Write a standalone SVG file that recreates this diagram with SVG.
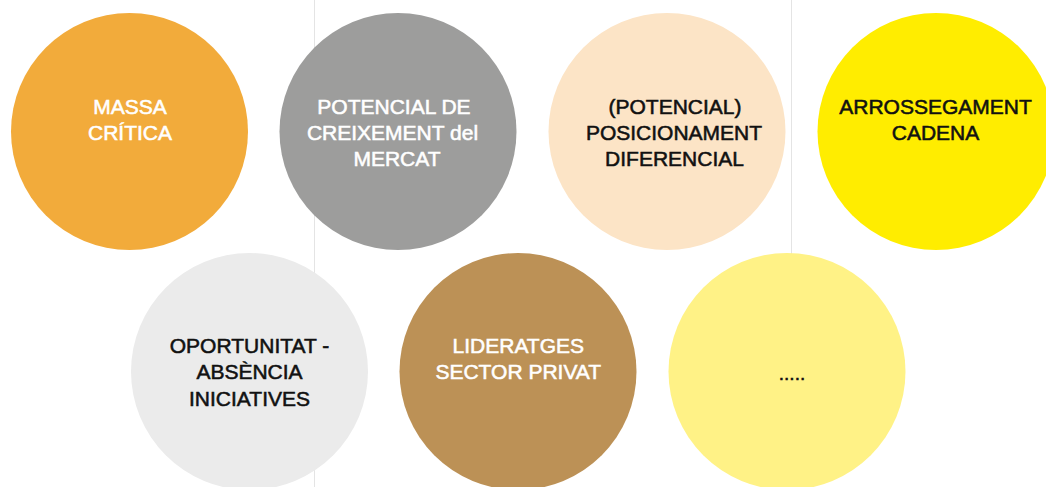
<svg xmlns="http://www.w3.org/2000/svg" width="1046" height="487" viewBox="0 0 1046 487">
<style>
.lbl{font-family:"Liberation Sans",Arial,Helvetica,sans-serif;font-size:21px;text-anchor:middle;stroke-width:0.55px;paint-order:stroke}
.w{fill:#ffffff;stroke:#ffffff}
.k{fill:#111111;stroke:#111111}
.sep{stroke:#e4e4e4;stroke-width:1}
</style>
<rect width="1046" height="487" fill="#ffffff"/>
<g id="connectors">
<line class="sep" x1="314.5" y1="0" x2="314.5" y2="487"/>
<line class="sep" x1="791.5" y1="0" x2="791.5" y2="487"/>
</g>
<g id="n1">
<circle cx="129.5" cy="131.5" r="118.5" fill="#F2AB3B"/>
<text class="lbl w" x="130" y="114.3">MASSA</text>
<text class="lbl w" x="130" y="140">CRÍTICA</text>
</g>
<g id="n2">
<circle cx="398" cy="131.5" r="118.5" fill="#9D9D9C"/>
<text class="lbl w" x="394" y="114">POTENCIAL DE</text>
<text class="lbl w" x="392.5" y="140">CREIXEMENT del</text>
<text class="lbl w" x="397" y="165.5">MERCAT</text>
</g>
<g id="n3">
<circle cx="667" cy="131.5" r="118.5" fill="#FCE4C6"/>
<text class="lbl k" x="675" y="114">(POTENCIAL)</text>
<text class="lbl k" x="674" y="140">POSICIONAMENT</text>
<text class="lbl k" x="674.5" y="165.5">DIFERENCIAL</text>
</g>
<g id="n4">
<circle cx="936" cy="131.5" r="118.5" fill="#FFED00"/>
<text class="lbl k" x="935.5" y="114">ARROSSEGAMENT</text>
<text class="lbl k" x="935.5" y="140">CADENA</text>
</g>
<g id="n5">
<circle cx="249.5" cy="371.5" r="118.5" fill="#EBEBEB"/>
<text class="lbl k" x="249.5" y="353.3">OPORTUNITAT -</text>
<text class="lbl k" x="249.5" y="379.3">ABSÈNCIA</text>
<text class="lbl k" x="249.5" y="405.5">INICIATIVES</text>
</g>
<g id="n6">
<circle cx="518" cy="371.5" r="118.5" fill="#BC9156"/>
<text class="lbl w" x="518.3" y="353.3">LIDERATGES</text>
<text class="lbl w" x="518.3" y="379.3">SECTOR PRIVAT</text>
</g>
<g id="n7">
<circle cx="787" cy="371.5" r="118.5" fill="#FFF286"/>
<text class="lbl k" x="792" y="380" style="font-size:19px;stroke-width:0.5px">.....</text>
</g>
</svg>
